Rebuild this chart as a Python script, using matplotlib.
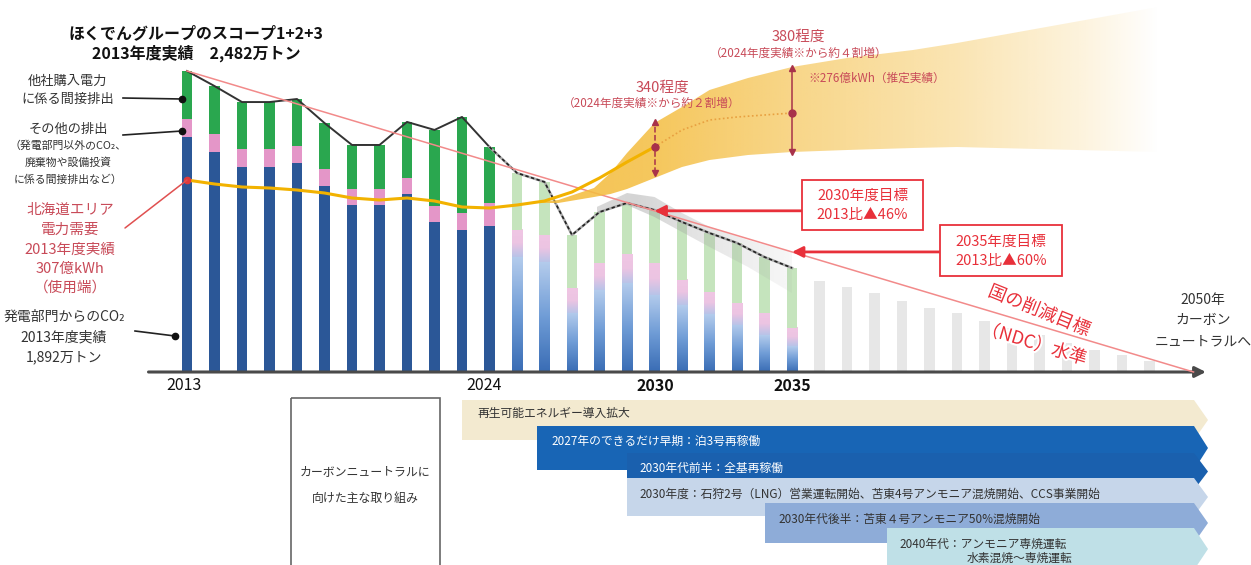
import numpy as np
import matplotlib

matplotlib.use("Agg")
import matplotlib.pyplot as plt
import matplotlib.patheffects as pe
from matplotlib.colors import LinearSegmentedColormap, to_rgb
from matplotlib.patches import Polygon, Rectangle

plt.rcParams["font.family"] = ["Noto Sans CJK JP", "DejaVu Sans"]

# --- emissions, 万トン -----------------------------------------------------
actual_years = list(range(2013, 2025))
actual_power = [1940, 1814, 1690, 1690, 1723, 1534, 1377, 1377, 1468, 1237, 1171, 1204]
actual_other = [150, 149, 149, 149, 141, 140, 132, 132, 132, 132, 140, 190]
actual_purchased = [392, 395, 387, 387, 387, 379, 363, 363, 462, 627, 792, 461]

plan_years = list(range(2025, 2036))
plan_power = [948, 907, 487, 676, 734, 635, 552, 478, 388, 305, 214]
plan_other = [223, 223, 206, 223, 239, 264, 207, 182, 181, 182, 149]
plan_purchased = [470, 437, 437, 420, 421, 437, 478, 486, 495, 461, 495]

future_years = list(range(2036, 2049))
future_total = [750, 701, 651, 585, 528, 487, 421, 363, 305, 239, 181, 140, 91]

# uncertainty band around the plan line
grey_years = [2027.9, 2029, 2030, 2031, 2032, 2033.4, 2035]
grey_upper = [1361, 1476, 1443, 1311, 1196, 1088, 990]
grey_lower = [1319, 1377, 1278, 1154, 1031, 866, 651]

# national (NDC) reduction path
ndc_years = [2013, 2049.6]
ndc_values = [2482, 0]

# --- Hokkaido area demand, 億kWh --------------------------------------------
demand_years = list(range(2013, 2036))
demand = [307, 303, 300, 299, 297, 294, 289, 287, 289, 286, 280, 279,
          282, 286, 295, 309, 325, 340, 357, 367, 370, 372, 374]
band_years = [2025.5, 2026.5, 2027.8, 2028.4, 2029, 2030, 2031, 2032,
              2033.4, 2035, 2037, 2039.4, 2041, 2048.3]
band_upper = [284, 287, 299, 314, 334, 364, 380, 397, 409, 420, 429, 437, 444, 480]
band_lower = [284, 284, 290, 293, 298, 309, 320, 327, 332, 335, 337, 339, 340, 335]
range_years = [2030, 2035]
range_low = [314, 335]
range_mid = [340, 374]
range_high = [365, 419]

measure_labels = [
    "再生可能エネルギー導入拡大",
    "2027年のできるだけ早期：泊3号再稼働",
    "2030年代前半：全基再稼働",
    "2030年度：石狩2号（LNG）営業運転開始、苫東4号アンモニア混焼開始、CCS事業開始",
    "2030年代後半：苫東４号アンモニア50%混焼開始",
    "2040年代：アンモニア専焼運転",
]
measure_note = "水素混焼～専焼運転"

RED = "#e8303a"
DARK_RED = "#a8324a"
SOFT_RED = "#c84a58"
TEXT = "#333333"

fig = plt.figure(figsize=(12.51, 5.65), dpi=100)
ax = fig.add_axes([0, 0, 1, 1])
ax.axis("off")

w = 0.39
# actual bars
ax.bar(actual_years, actual_power, w, color="#2b5797", zorder=2)
ax.bar(actual_years, actual_other, w, bottom=actual_power, color="#e496c8", zorder=2)
ax.bar(actual_years, actual_purchased, w,
       bottom=np.add(actual_power, actual_other), color="#2aa74f", zorder=2)

# planned bars, lighter with gradients
blue_cmap = LinearSegmentedColormap.from_list("pb", ["#3a6db5", "#6f9cd6", "#b3cbec"])
pink_cmap = LinearSegmentedColormap.from_list("pp", ["#b9c3e8", "#ecc4e2", "#f0c6e4"])
grad = np.linspace(0, 1, 64).reshape(-1, 1)
for yr, p, o in zip(plan_years, plan_power, plan_other):
    ax.imshow(grad, cmap=blue_cmap, extent=[yr - w / 2, yr + w / 2, 0, p],
              origin="lower", aspect="auto", zorder=2, interpolation="bilinear")
    ax.imshow(grad, cmap=pink_cmap, extent=[yr - w / 2, yr + w / 2, p, p + o],
              origin="lower", aspect="auto", zorder=2, interpolation="bilinear")
ax.bar(plan_years, plan_purchased, w, bottom=np.add(plan_power, plan_other),
       color="#c5e4bd", zorder=2)

# after 2035: grey
ax.bar(future_years, future_total, w, color="#e7e7e7", zorder=2)

# grey band around the plan line
gx = np.array(grey_years)
gverts = list(zip(gx, grey_upper)) + list(zip(gx[::-1], grey_lower[::-1]))
gclip = Polygon(gverts, closed=True, facecolor="none", edgecolor="none",
                transform=ax.transData)
ax.add_patch(gclip)
xs = np.linspace(gx[0], gx[-1], 200)
grgba = np.zeros((1, 200, 4))
grgba[..., :3] = to_rgb("#a0a0a0")
grgba[0, :, 3] = np.interp(xs, [gx[0], 2029.3, 2032, 2035], [0.4, 0.45, 0.25, 0.08])
gim = ax.imshow(grgba, extent=[gx[0], gx[-1], min(grey_lower), max(grey_upper)],
                aspect="auto", origin="lower", zorder=3, interpolation="bilinear")
gim.set_clip_path(gclip)

# totals line
actual_total = np.add(np.add(actual_power, actual_other), actual_purchased)
plan_total = np.add(np.add(plan_power, plan_other), plan_purchased)
ax.plot(actual_years, actual_total, color="#333333", lw=1.4, zorder=4)
px = [actual_years[-1]] + plan_years
py = [actual_total[-1]] + list(plan_total)
ax.plot(px, py, color="#a8a8a8", lw=1.8, zorder=4)
ax.plot(px, py, color="#222222", lw=1.2, ls=(0, (2, 1.5)), zorder=4)

# NDC line
ax.plot(ndc_years, ndc_values, color="#f28a8a", lw=1.1, zorder=5)

# baseline arrow
ax.annotate("", xy=(2050.05, 0), xytext=(2011.6, 0),
            arrowprops=dict(arrowstyle="-|>", color="#4a4a4a", lw=2.2,
                            mutation_scale=16, shrinkA=0, shrinkB=0), zorder=3)

ax.set_xlim(2006.2, 2051.69)
ax.set_ylim(-1591.5, 3067.5)

# --- demand on its own scale ------------------------------------------------
axd = ax.twinx()
axd.axis("off")
bx = np.array(band_years)
verts = list(zip(bx, band_upper)) + list(zip(bx[::-1], band_lower[::-1]))
clip = Polygon(verts, closed=True, facecolor="none", edgecolor="none",
               transform=axd.transData)
axd.add_patch(clip)
xs = np.linspace(bx[0], bx[-1], 400)
rgba = np.zeros((1, 400, 4))
rgba[..., :3] = to_rgb("#f4bd40")
rgba[0, :, 3] = np.interp(xs, [2025.5, 2030, 2035, 2041, 2045.5, 2048.3],
                          [0.9, 0.85, 0.62, 0.4, 0.18, 0.0])
im = axd.imshow(rgba, extent=[bx[0], bx[-1], min(band_lower), max(band_upper)],
                aspect="auto", origin="lower", zorder=1, interpolation="bilinear")
im.set_clip_path(clip)

split = demand_years.index(2030) + 1
axd.plot(demand_years[:split], demand[:split], color="#f2b200", lw=2.2, zorder=3)
axd.plot(demand_years[split - 1:], demand[split - 1:], color="#e8a040", lw=1.2,
         ls=(0, (1, 1.5)), zorder=3)
axd.plot(demand_years[0], demand[0], "o", color="#e03a3a", ms=4.5, zorder=4)

for yr, lo, mid, hi, ls in zip(range_years, range_low, range_mid, range_high,
                               ["--", "-"]):
    axd.plot([yr, yr], [lo, hi], color=DARK_RED, lw=1.1, ls=ls, zorder=4)
    axd.plot(yr, hi, "^", color=DARK_RED, ms=5, zorder=4)
    axd.plot(yr, lo, "v", color=DARK_RED, ms=5, zorder=4)
    axd.plot(yr, mid, "o", color=DARK_RED, ms=5, zorder=4)

axd.set_xlim(2006.2, 2051.69)
axd.set_ylim(-78, 487)

# --- overlay in pixel coordinates for labels --------------------------------
ov = fig.add_axes([0, 0, 1, 1])
ov.set_xlim(0, 1251)
ov.set_ylim(565, 0)
ov.axis("off")
ov.patch.set_alpha(0)

ov.text(196, 33, "ほくでんグループのスコープ1+2+3", ha="center", va="center",
        fontsize=11.5, fontweight="bold", color="#111111")
ov.text(196, 53, "2013年度実績　2,482万トン", ha="center", va="center",
        fontsize=11.5, fontweight="bold", color="#111111")

# left call-outs
for y, s, fs in [(81, "他社購入電力", 9.5), (100, "に係る間接排出", 9.5),
                 (129, "その他の排出", 9.5), (146, "（発電部門以外のCO₂、", 7.8),
                 (163, "廃棄物や設備投資", 7.8), (180, "に係る間接排出など）", 7.8)]:
    ov.text(68, y, s, ha="center", va="center", fontsize=fs, color=TEXT)
for y, s in [(317, "発電部門からのCO₂"), (337, "2013年度実績"), (357, "1,892万トン")]:
    ov.text(64, y, s, ha="center", va="center", fontsize=10, color=TEXT)
for y, s in [(210, "北海道エリア"), (230, "電力需要"), (250, "2013年度実績"),
             (269, "307億kWh"), (288, "（使用端）")]:
    ov.text(70, y, s, ha="center", va="center", fontsize=10.5, color=SOFT_RED)

for (x0, y0), (x1, y1) in [((123, 98), (182, 99)), ((123, 135), (182, 131)),
                           ((135, 331), (175, 336))]:
    ov.plot([x0, x1], [y0, y1], color="#222222", lw=1.2)
    ov.plot(x1, y1, "o", color="#111111", ms=4.5)
ov.annotate("", xy=(2013, demand[0]), xycoords=axd.transData,
            xytext=(125, 228), textcoords="data",
            arrowprops=dict(arrowstyle="-", color="#e05050", lw=1.1,
                            shrinkA=0, shrinkB=0))

# year labels
for x, s, bold in [(184, "2013", False), (484, "2024", False),
                   (655, "2030", True), (792, "2035", True)]:
    ov.text(x, 386, s, ha="center", va="center", fontsize=11.5,
            fontweight="bold" if bold else "normal", color="#111111")
for y, s in [(300, "2050年"), (320, "カーボン"), (341, "ニュートラルへ")]:
    ov.text(1203, y, s, ha="center", va="center", fontsize=10, color=TEXT)

# demand annotations
ov.text(662, 88, "340程度", ha="center", va="center", fontsize=10.5, color=SOFT_RED)
ov.text(652, 103, "（2024年度実績※から約２割増）", ha="center", va="center",
        fontsize=8.4, color=SOFT_RED)
ov.text(798, 37, "380程度", ha="center", va="center", fontsize=10.5, color=SOFT_RED)
ov.text(799, 53, "（2024年度実績※から約４割増）", ha="center", va="center",
        fontsize=8.4, color=SOFT_RED)
ov.text(808, 78, "※276億kWh（推定実績）", ha="left", va="center",
        fontsize=8.4, color=SOFT_RED)

# target boxes
ndc_at = lambda yr: np.interp(yr, ndc_years, ndc_values)
for yr, (bx0, by0, bw, bh), lines in [
        (2030, (802, 180, 121, 50), ["2030年度目標", "2013比▲46%"]),
        (2035, (940, 225, 122, 51), ["2035年度目標", "2013比▲60%"])]:
    ov.add_patch(Rectangle((bx0, by0), bw, bh, fill=True, facecolor="white",
                           edgecolor=RED, lw=1.3, zorder=5))
    ov.text(bx0 + bw / 2, by0 + bh * 0.32, lines[0], ha="center", va="center",
            fontsize=10.5, color=RED, zorder=6)
    ov.text(bx0 + bw / 2, by0 + bh * 0.7, lines[1], ha="center", va="center",
            fontsize=10.5, color=RED, zorder=6)
    tip = ov.transData.inverted().transform(
        ax.transData.transform((yr, ndc_at(yr))))
    ov.annotate("", xy=tip, xytext=(bx0, tip[1]),
                arrowprops=dict(arrowstyle="-|>", color=RED, lw=2,
                                mutation_scale=16, shrinkA=0, shrinkB=0))

halo = [pe.withStroke(linewidth=3, foreground="white")]
ov.text(1039, 311, "国の削減目標", ha="center", va="center", fontsize=13,
        rotation=-22, color=RED, path_effects=halo)
ov.text(1034, 344, "（NDC）水準", ha="center", va="center", fontsize=13,
        rotation=-17, color=RED, path_effects=halo)

# --- bottom: measures -------------------------------------------------------
ov.add_patch(Rectangle((291, 398), 149, 190, fill=False, edgecolor="#666666", lw=1.2))
ov.text(365, 472, "カーボンニュートラルに", ha="center", va="center",
        fontsize=8.6, color=TEXT)
ov.text(365, 498, "向けた主な取り組み", ha="center", va="center",
        fontsize=8.6, color=TEXT)

step_left = [462, 537, 627, 627, 765, 887]
step_top = [400, 426, 453, 478, 503, 528]
step_bottom = [440, 470, 490, 516, 543, 570]
step_face = ["#f3ead0", "#1865b5", "#1a60ae", "#c6d6ea", "#8eacd8", "#bfe0e7"]
step_text = [TEXT, "white", "white", TEXT, TEXT, TEXT]
step_text_x = [478, 551, 639, 639, 778, 899]
step_text_y = [413, 441, 468, 494, 519, 544]
for lab, x0, t, b, fc, tc, tx, ty in zip(measure_labels, step_left, step_top,
                                          step_bottom, step_face, step_text,
                                          step_text_x, step_text_y):
    ov.add_patch(Polygon([(x0, t), (1194, t), (1208, (t + b) / 2), (1194, b), (x0, b)],
                         closed=True, facecolor=fc, edgecolor="none"))
    ov.text(tx, ty, lab, ha="left", va="center", fontsize=8.5, color=tc)
ov.text(967, 558, measure_note, ha="left", va="center", fontsize=8.5, color=TEXT)

fig.savefig("out.png", dpi=100)
